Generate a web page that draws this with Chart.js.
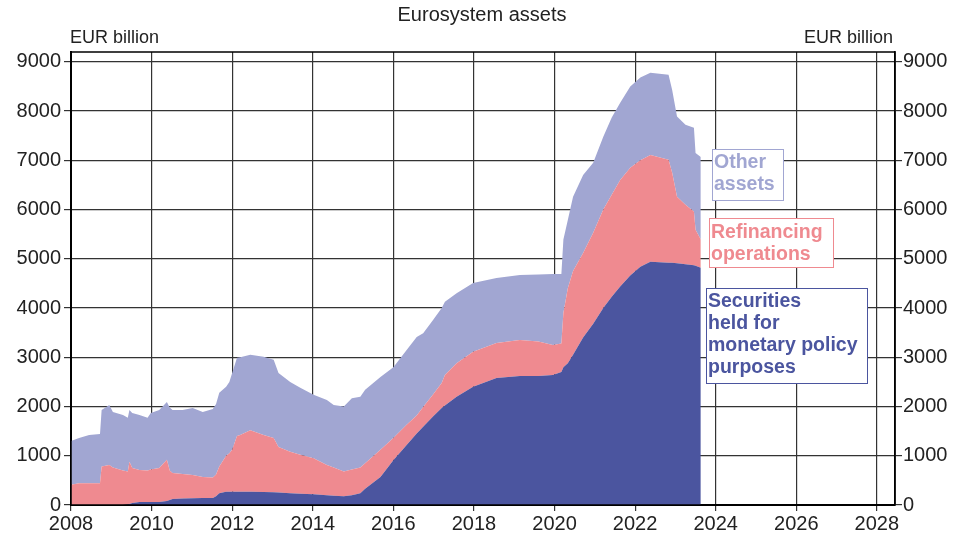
<!DOCTYPE html>
<html>
<head>
<meta charset="utf-8">
<script src="https://cdn.jsdelivr.net/npm/chart.js@4/dist/chart.umd.min.js"></script>
<style>
  body { margin: 0; background: #fff; }
  canvas { display: block; }
</style>
</head>
<body>
<canvas id="myChart" width="955" height="536"></canvas>
<script>
// dates as decimal years, values in EUR billion
const dates = [
  2008.00, 2008.20, 2008.45, 2008.72, 2008.76, 2008.95, 2009.04, 2009.29, 2009.41, 2009.45,
  2009.52, 2009.70, 2009.90, 2009.98, 2010.19, 2010.38, 2010.45, 2010.52, 2010.77, 2011.02,
  2011.27, 2011.52, 2011.60, 2011.68, 2011.85, 2011.93, 2012.00, 2012.12, 2012.20, 2012.45,
  2012.78, 2013.03, 2013.15, 2013.44, 2013.69, 2014.02, 2014.35, 2014.52, 2014.77, 2014.97,
  2015.18, 2015.30, 2015.68, 2016.00, 2016.33, 2016.58, 2016.74, 2016.99, 2017.20, 2017.28,
  2017.57, 2017.98, 2018.56, 2019.14, 2019.60, 2019.96, 2020.17, 2020.22, 2020.33, 2020.46,
  2020.71, 2020.96, 2021.21, 2021.42, 2021.63, 2021.88, 2022.13, 2022.38, 2022.83, 2022.92,
  2023.04, 2023.25, 2023.46, 2023.50, 2023.63
];
const securities = [
  0, 0, 0, 0, 0, 0, 0, 0, 10, 20,
  40, 60, 60, 60, 60, 80, 100, 120, 130, 135,
  140, 140, 180, 240, 270, 270, 270, 270, 270, 270,
  265, 260, 255, 240, 230, 220, 200, 190, 180, 200,
  240, 330, 570, 910, 1220, 1450, 1590, 1800, 1970, 2020,
  2200, 2400, 2580, 2620, 2620, 2640, 2700, 2800, 2880, 3050,
  3400, 3680, 4000, 4230, 4440, 4660, 4840, 4940, 4920, 4920,
  4910, 4890, 4870, 4860, 4820
];
const refinancing = [
  410, 440, 440, 440, 780, 810, 760, 700, 670, 860,
  710, 650, 640, 660, 690, 840, 600, 530, 500, 475,
  430, 420, 440, 540, 730, 780, 850, 1130, 1150, 1250,
  1155, 1100, 925, 840, 790, 730, 610, 570, 500, 520,
  520, 520, 550, 450, 410, 370, 400, 450, 510, 620,
  680, 710, 710, 730, 700, 610, 580, 1100, 1520, 1700,
  1720, 1850, 2000, 2070, 2160, 2190, 2160, 2170, 2090, 1830,
  1350, 1210, 1090, 730, 570
];
const otherAssets = [
  890, 920, 980, 1000, 1150, 1220, 1130, 1130, 1090, 1050,
  1120, 1120, 1070, 1150, 1180, 1170, 1280, 1280, 1300, 1360,
  1320, 1390, 1430, 1500, 1400, 1450, 1560, 1590, 1580, 1530,
  1590, 1590, 1500, 1420, 1360, 1290, 1320, 1270, 1320, 1450,
  1440, 1490, 1480, 1440, 1520, 1590, 1500, 1510, 1520, 1490,
  1420, 1400, 1320, 1320, 1360, 1440, 1410, 1490, 1390, 1510,
  1580, 1420, 1480, 1570, 1570, 1650, 1680, 1670, 1730, 1680,
  1630, 1620, 1700, 1560, 1680
];
const yearTicks = [2008, 2010, 2012, 2014, 2016, 2018, 2020, 2022, 2024, 2026, 2028];
const valueTicks = [0, 1000, 2000, 3000, 4000, 5000, 6000, 7000, 8000, 9000];

const BLUE = '#4b559f';
const PINK = '#ef8a90';
const LAVENDER = '#a1a6d2';
const FONT = '"Liberation Sans", Arial, sans-serif';

function points(values) {
  return values.map((v, i) => ({ x: dates[i], y: v }));
}

// text boxes next to the areas, title and unit labels
const annotations = {
  id: 'annotations',
  afterDraw(chart) {
    const ctx = chart.ctx;
    const a = chart.chartArea;
    ctx.save();

    ctx.strokeStyle = '#000';
    ctx.lineWidth = 1.5;
    ctx.strokeRect(a.left, a.top, a.right - a.left, a.bottom - a.top);

    ctx.fillStyle = '#222';
    ctx.font = '20px ' + FONT;
    ctx.textBaseline = 'middle';
    ctx.textAlign = 'center';
    ctx.fillText('Eurosystem assets', 482, 15);
    ctx.font = '18px ' + FONT;
    ctx.textAlign = 'left';
    ctx.fillText('EUR billion', 70, 38);
    ctx.textAlign = 'right';
    ctx.fillText('EUR billion', 893, 38);

    const boxes = [
      { x: 712, y: 149, w: 71, h: 51, color: LAVENDER, text: ['Other', 'assets'], ty: 163 },
      { x: 709, y: 218, w: 124, h: 49, color: PINK, text: ['Refinancing', 'operations'], ty: 233 },
      { x: 706, y: 288, w: 161, h: 95, color: BLUE, text: ['Securities', 'held for', 'monetary policy', 'purposes'], ty: 302 }
    ];
    ctx.textAlign = 'left';
    ctx.font = 'bold 19.5px ' + FONT;
    boxes.forEach(b => {
      ctx.fillStyle = '#fff';
      ctx.fillRect(b.x, b.y, b.w, b.h);
      ctx.strokeStyle = b.color;
      ctx.lineWidth = 1;
      ctx.strokeRect(b.x + 0.5, b.y + 0.5, b.w, b.h);
      ctx.fillStyle = b.color;
      b.text.forEach((line, i) => ctx.fillText(line, b.x + 2, b.ty + i * 22));
    });
    ctx.restore();
  }
};

const plainTick = v => String(v);

const ctx = document.getElementById('myChart').getContext('2d');
const myChart = new Chart(ctx, {
  type: 'line',
  data: {
    datasets: [
      { label: 'Securities held for monetary policy purposes', data: points(securities),
        backgroundColor: BLUE, fill: 'origin' },
      { label: 'Refinancing operations', data: points(refinancing),
        backgroundColor: PINK, fill: '-1' },
      { label: 'Other assets', data: points(otherAssets),
        backgroundColor: LAVENDER, fill: '-1' }
    ]
  },
  options: {
    responsive: false,
    animation: false,
    devicePixelRatio: 1,
    layout: { padding: { top: 52, left: 0, right: 0, bottom: 0 } },
    elements: {
      point: { radius: 0 },
      line: { borderWidth: 0, tension: 0 }
    },
    plugins: {
      legend: { display: false },
      tooltip: { enabled: false }
    },
    scales: {
      x: {
        type: 'linear',
        min: 2008,
        max: 2028.45,
        afterBuildTicks: s => { s.ticks = yearTicks.map(v => ({ value: v })); },
        afterFit: s => { s.height = 31; },
        grid: { color: '#333', lineWidth: 1.2, tickLength: 6 },
        border: { color: '#000', width: 2 },
        ticks: { color: '#222', font: { family: FONT, size: 20 }, padding: 1, maxRotation: 0, callback: plainTick }
      },
      y: {
        stacked: true,
        position: 'left',
        min: 0,
        max: 9200,
        afterBuildTicks: s => { s.ticks = valueTicks.map(v => ({ value: v })); },
        afterFit: s => { s.width = 71; },
        grid: { color: '#333', lineWidth: 1.2, tickLength: 7 },
        border: { color: '#000', width: 2 },
        ticks: { color: '#222', font: { family: FONT, size: 20 }, padding: 3, callback: plainTick }
      },
      y2: {
        position: 'right',
        min: 0,
        max: 9200,
        afterBuildTicks: s => { s.ticks = valueTicks.map(v => ({ value: v })); },
        afterFit: s => { s.width = 60; },
        grid: { drawOnChartArea: false, color: '#333', lineWidth: 1.2, tickLength: 7 },
        border: { color: '#000', width: 1.5 },
        ticks: { color: '#222', font: { family: FONT, size: 20 }, padding: 1, callback: plainTick }
      }
    }
  },
  plugins: [annotations]
});
</script>
</body>
</html>
